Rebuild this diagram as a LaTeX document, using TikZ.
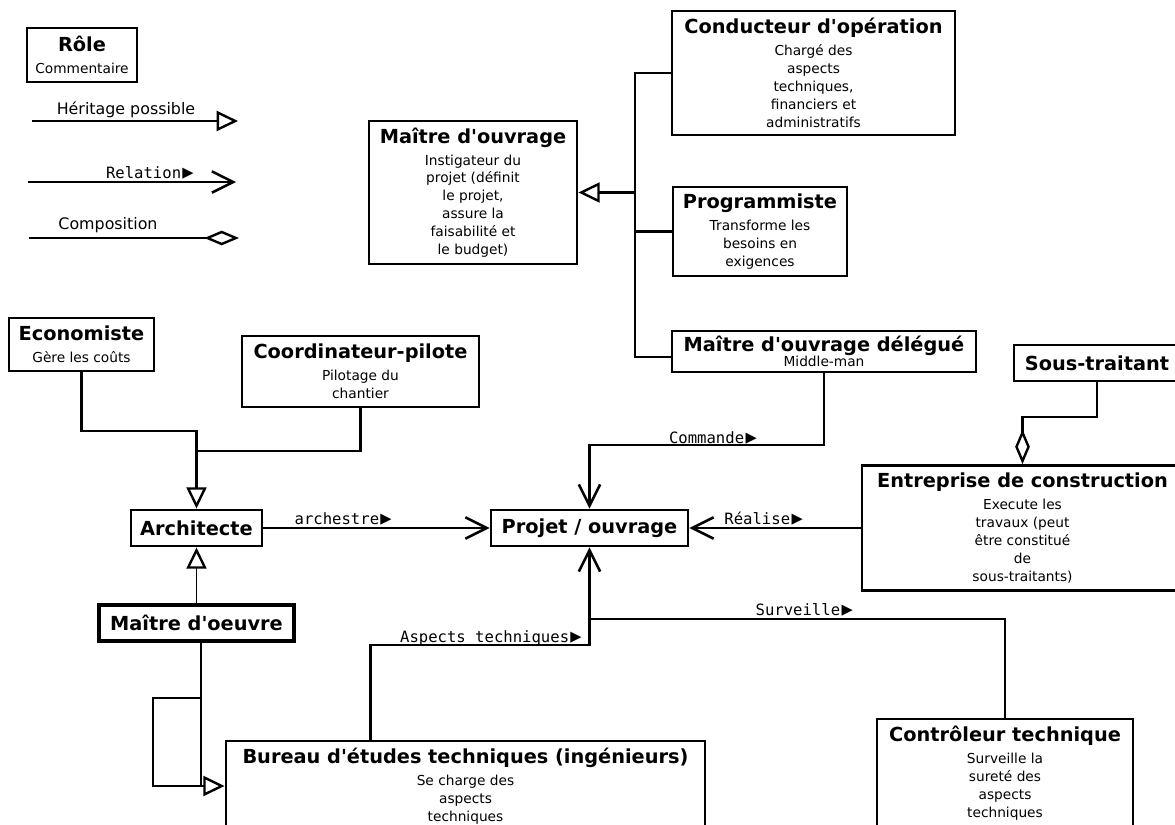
\documentclass[tikz,border=0pt]{standalone}
\usepackage{fontspec}
\setmainfont{DejaVu Sans}[Ligatures=TeXOff]
\setmonofont{DejaVu Sans Mono}
\usetikzlibrary{arrows.meta, calc}

\newcommand{\rolefont}{\fontsize{14.5}{17}\selectfont\bfseries}
\newcommand{\notefont}{\fontsize{10.3}{13.4}\selectfont}
\newcommand{\relfont}{\fontsize{11.7}{14}\selectfont\ttfamily}
\newcommand{\legfont}{\fontsize{11.9}{14}\selectfont}
\newcommand{\role}[2]{{\rolefont #1}\\[3pt]#2}
\newcommand{\tri}{\kern1pt{\fontsize{14}{14}\selectfont ▶}}

\begin{document}
\begin{tikzpicture}[x=0.75pt, y=-0.75pt,
  box/.style={draw, line width=2.1pt, align=center, font=\notefont, inner sep=2pt},
  conn/.style={line width=1.9pt},
  thinconn/.style={line width=0.8pt},
  inh/.style={-{Triangle[fill=white, length=16pt, width=15pt, line width=1.8pt]}},
  rel/.style={-{Straight Barb[length=16pt, width=16pt, line width=1.9pt]}},
  comp/.style={-{Diamond[fill=white, length=26pt, width=11pt, line width=1.8pt]}},
  lbl/.style={font=\relfont, inner sep=0pt, anchor=base east}]
  \useasboundingbox (0,0) rectangle (1175,825);
  \clip (0,0) rectangle (1175,825);
  \fill[white] (0,0) rectangle (1175,825);

  % Legend
  \node[box, minimum width=82.5pt, minimum height=40.5pt] (role) at (82,55) {\role{Rôle}{Commentaire}};
  \coordinate (herA) at (32,121);
  \coordinate (herB) at (238,121);
  \draw[thinconn, inh] (herA) -- (herB);
  \node[font=\legfont, inner sep=0pt, anchor=base] (lblher) at (126,114) {Héritage possible};
  \coordinate (relA) at (28,182);
  \coordinate (relB) at (236,182);
  \draw[thinconn, rel] (relA) -- (relB);
  \node[lbl] (lblrel) at (194,178) {Relation\tri};
  \coordinate (compA) at (29,238);
  \coordinate (compB) at (239,238);
  \draw[thinconn, comp] (compA) -- (compB);
  \node[font=\legfont, inner sep=0pt, anchor=base] (lblcomp) at (108,229) {Composition};

  % Roles
  \node[box, minimum width=156pt, minimum height=107.25pt] (mo) at (473,192.5)
    {\role{Maître d'ouvrage}{Instigateur du\\projet (définit\\le projet,\\assure la\\faisabilité et\\le budget)}};
  \node[box, minimum width=212.25pt, minimum height=93pt] (cond) at (813.5,73)
    {\role{Conducteur d'opération}{Chargé des\\aspects\\techniques,\\financiers et\\administratifs}};
  \node[box, minimum width=130.5pt, minimum height=66.75pt] (prog) at (760,231.5)
    {\role{Programmiste}{Transforme les\\besoins en\\exigences}};
  \node[box, minimum width=228pt, minimum height=30.75pt] (mod) at (824,351.5)
    {{\rolefont Maître d'ouvrage délégué}\\[-2pt]Middle-man};
  \node[box, minimum width=108.75pt, minimum height=39.75pt] (eco) at (81.5,344.5)
    {\role{Economiste}{Gère les coûts}};
  \node[box, minimum width=177.75pt, minimum height=53.25pt] (coord) at (360.5,371.5)
    {\role{Coordinateur-pilote}{Pilotage du\\chantier}};
  \node[box, minimum width=98.25pt, minimum height=27pt] (archi) at (196.5,528) {{\rolefont Architecte}};
  \node[box, minimum width=146.25pt, minimum height=27pt, line width=2.3pt] (moe) at (196.5,623) {{\rolefont Maître d'oeuvre}};
  \node[box, minimum width=147.75pt, minimum height=27pt] (projet) at (589.5,528) {{\rolefont Projet / ouvrage}};
  \node[box, minimum width=240.75pt, minimum height=93.75pt] (ent) at (1022.5,528)
    {\role{Entreprise de construction}{Execute les\\travaux (peut\\être constitué\\de\\sous-traitants)}};
  \node[box, minimum width=124.5pt, minimum height=27pt] (sous) at (1097,363) {{\rolefont Sous-traitant}};
  \node[box, minimum width=359.25pt, minimum height=67.5pt] (bet) at (465.5,786)
    {\role{Bureau d'études techniques (ingénieurs)}{Se charge des\\aspects\\techniques}};
  \node[box, minimum width=192pt, minimum height=81pt] (ctrl) at (1005,773)
    {\role{Contrôleur technique}{Surveille la\\sureté des\\aspects\\techniques}};

  % Inheritance towards the maitre d'ouvrage
  \coordinate (bus) at (635,192.5);
  \draw[conn] (cond.west) -| (bus);
  \draw[conn] (prog.west) -| (bus);
  \draw[conn] ($(mod.west)+(0,5.5)$) -| (bus);
  \draw[conn, inh] (bus) -- (mo.east);

  % Architecte side
  \coordinate (ecoknee) at (196.5,431);
  \coordinate (coordknee) at (196.5,451);
  \draw[conn, inh] (eco.south) |- (ecoknee) -- (archi.north);
  \draw[conn] (coord.south) |- (coordknee);
  \draw[thinconn, inh] (moe.north) -- (archi.south);
  \coordinate (moeout) at ($(moe.south)+(4.5,0)$);
  \draw[conn, inh] (moeout) |- (bet.west);
  \coordinate (loopA) at (201,698);
  \coordinate (loopB) at (153,786);
  \draw[conn] (loopA) -| (loopB) -- (loopB -| moeout);

  % Relations to the projet
  \draw[conn, rel] (archi.east) -- (projet.west);
  \node[lbl] (lblarch) at (392,524) {archestre\tri};
  \coordinate (cmdknee) at (589.5,445);
  \draw[conn, rel] (mod.south) |- (cmdknee) -- (projet.north);
  \node[lbl] (lblcmd) at (757,443) {Commande\tri};
  \draw[conn, rel] (ent.west) -- (projet.east);
  \node[lbl] (lblreal) at (803,524) {Réalise\tri};
  \coordinate (betout) at ($(bet.north west)+(146,0)$);
  \coordinate (aspknee) at (589.5,645);
  \draw[conn, rel] (betout) |- (aspknee) -- (projet.south);
  \node[lbl] (lblasp) at (582,642) {Aspects techniques\tri};
  \coordinate (survknee) at (589.5,619);
  \draw[conn] (ctrl.north) |- (survknee);
  \node[lbl] (lblsurv) at (853,615) {Surveille\tri};

  % Composition
  \coordinate (sousknee) at (1022.5,417);
  \draw[conn, comp] (sous.south) |- (sousknee) -- (ent.north);
\end{tikzpicture}
\end{document}
